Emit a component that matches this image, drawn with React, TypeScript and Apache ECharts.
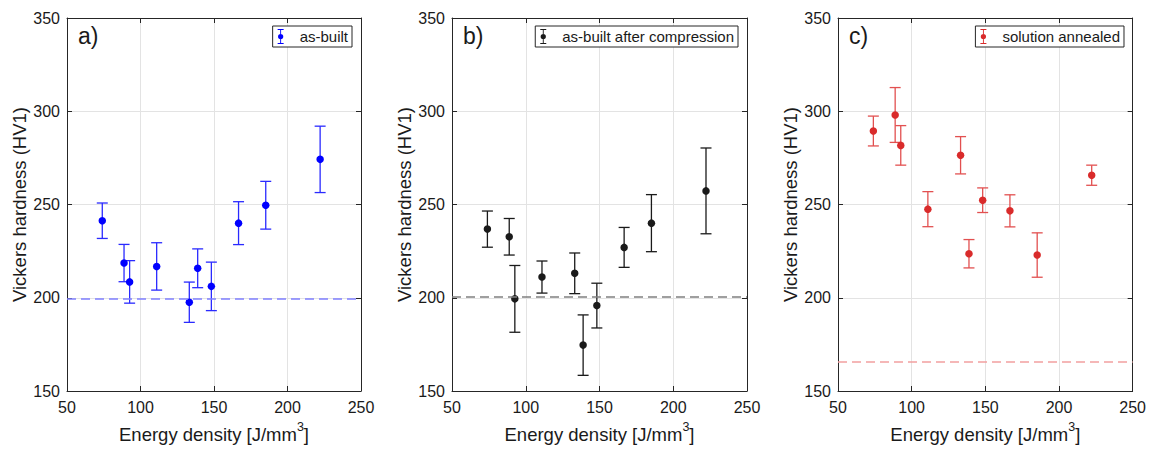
import React, { useEffect, useRef } from "react";
import * as echarts from "echarts";

const energyDensity = [74.0, 88.8, 92.6, 111.0, 133.2, 138.9, 148.2, 166.7, 185.2, 222.2];

const hardnessAsBuilt = [241.3, 218.6, 208.5, 216.8, 197.6, 215.8, 206.1, 240.0, 249.6, 274.2];
const errAsBuilt = [9.5, 10.0, 11.4, 12.7, 10.8, 10.4, 13.0, 11.5, 12.8, 17.8];

const hardnessCompressed = [236.8, 232.7, 199.4, 211.1, 213.1, 174.6, 195.8, 227.0, 240.0, 257.3];
const errCompressed = [9.7, 9.8, 17.9, 8.6, 10.9, 16.2, 12.0, 10.7, 15.3, 23.0];

const hardnessAnnealed = [289.4, 298.0, 281.7, 247.5, 276.4, 223.6, 252.3, 246.6, 222.9, 265.7];
const errAnnealed = [8.0, 14.7, 10.6, 9.4, 10.0, 7.6, 6.6, 8.6, 11.9, 5.4];

const referenceLevels = [199.4, 200.3, 165.5];
const seriesNames = ["as-built", "as-built after compression", "solution annealed"];
const panelLabels = ["a)", "b)", "c)"];

const xTicks = { min: 50, max: 250, interval: 50 };
const yTicks = { min: 150, max: 350, interval: 50 };

const FONT = "'Liberation Sans', Arial, Helvetica, sans-serif";

const LEGEND_ICON =
  "path://M1,0 H9 V1.2 H1 Z M4.4,0 H5.6 V20 H4.4 Z M1,18.8 H9 V20 H1 Z M1.5,10 A3.5,3.5 0 1 1 8.5,10 A3.5,3.5 0 1 1 1.5,10 Z";

export default function App() {
  const ref = useRef<HTMLDivElement>(null);

  useEffect(() => {
    if (!ref.current) return;
    const chart = echarts.init(ref.current, undefined, { renderer: "svg" });

    const grids = [
      { left: 67, top: 18, width: 294, height: 373 },
      { left: 452, top: 18, width: 295, height: 373 },
      { left: 838, top: 18, width: 295, height: 373 },
    ];
    const values = [hardnessAsBuilt, hardnessCompressed, hardnessAnnealed];
    const errs = [errAsBuilt, errCompressed, errAnnealed];
    const pointColors = ["#0000ff", "#1a1a1a", "#d92b2b"];
    const barColors = ["#2a2aff", "#1a1a1a", "#e25050"];
    const dashColors = ["#8080ff", "#808080", "#f2a0a0"];
    const legendRights = [797, 411, 25];

    const axisLine = { show: true, lineStyle: { color: "#262626", width: 1 } };
    const splitLine = { show: true, lineStyle: { color: "#e3e3e3", width: 1 } };

    const xAxes: any[] = [];
    const yAxes: any[] = [];
    const series: any[] = [];
    const legends: any[] = [];
    const titles: any[] = [];

    grids.forEach((g, i) => {
      xAxes.push({
        type: "value",
        gridIndex: i,
        ...xTicks,
        position: "bottom",
        name: "{n|Energy density [J/mm}{s|3}{n|]}",
        nameLocation: "middle",
        nameGap: 29,
        nameTextStyle: {
          rich: {
            n: { fontSize: 18.5, fontFamily: FONT, color: "#1a1a1a", lineHeight: 24, verticalAlign: "bottom" },
            s: { fontSize: 12.5, fontFamily: FONT, color: "#1a1a1a", lineHeight: 24, verticalAlign: "top", padding: [0, 0, 6, 0] },
          },
        },
        axisLine,
        axisTick: { show: true, inside: true, length: 5, lineStyle: { color: "#262626" } },
        axisLabel: { fontSize: 16, fontFamily: FONT, color: "#1a1a1a", margin: 8 },
        splitLine,
      });
      xAxes.push({
        type: "value",
        gridIndex: i,
        ...xTicks,
        position: "top",
        axisLine,
        axisTick: { show: true, inside: true, length: 5, lineStyle: { color: "#262626" } },
        axisLabel: { show: false },
        splitLine: { show: false },
      });
      yAxes.push({
        type: "value",
        gridIndex: i,
        ...yTicks,
        position: "left",
        name: "Vickers hardness (HV1)",
        nameLocation: "middle",
        nameGap: 36,
        nameTextStyle: { fontSize: 18.5, fontFamily: FONT, color: "#1a1a1a" },
        axisLine,
        axisTick: { show: true, inside: true, length: 5, lineStyle: { color: "#262626" } },
        axisLabel: { fontSize: 16, fontFamily: FONT, color: "#1a1a1a", margin: 7 },
        splitLine,
      });
      yAxes.push({
        type: "value",
        gridIndex: i,
        ...yTicks,
        position: "right",
        axisLine,
        axisTick: { show: true, inside: true, length: 5, lineStyle: { color: "#262626" } },
        axisLabel: { show: false },
        splitLine: { show: false },
      });

      const xIdx = i * 2;
      const yIdx = i * 2;
      const errData = energyDensity.map((x, k) => [x, values[i][k], values[i][k] - errs[i][k], values[i][k] + errs[i][k]]);

      series.push({
        type: "custom",
        name: seriesNames[i] + " error",
        xAxisIndex: xIdx,
        yAxisIndex: yIdx,
        silent: true,
        z: 3,
        data: errData,
        encode: { x: 0, y: [1, 2, 3] },
        renderItem: (params: any, api: any) => {
          const x = api.value(0);
          const lo = api.coord([x, api.value(2)]);
          const hi = api.coord([x, api.value(3)]);
          const hw = 5.5;
          const style = { stroke: barColors[i], lineWidth: 1.3, fill: "none" };
          return {
            type: "group",
            children: [
              { type: "line", shape: { x1: hi[0], y1: hi[1], x2: lo[0], y2: lo[1] }, style },
              { type: "line", shape: { x1: hi[0] - hw, y1: hi[1], x2: hi[0] + hw, y2: hi[1] }, style },
              { type: "line", shape: { x1: lo[0] - hw, y1: lo[1], x2: lo[0] + hw, y2: lo[1] }, style },
            ],
          };
        },
      });

      series.push({
        type: "scatter",
        name: seriesNames[i],
        xAxisIndex: xIdx,
        yAxisIndex: yIdx,
        symbol: "circle",
        symbolSize: 7.5,
        z: 4,
        itemStyle: { color: pointColors[i], opacity: 1 },
        data: energyDensity.map((x, k) => [x, values[i][k]]),
        markLine: {
          silent: true,
          symbol: "none",
          label: { show: false },
          lineStyle: { type: [9, 5], color: dashColors[i], width: 1.5 },
          data: [{ yAxis: referenceLevels[i] }],
        },
      });

      legends.push({
        data: [{ name: seriesNames[i], icon: LEGEND_ICON }],
        right: legendRights[i],
        top: 26,
        orient: "vertical",
        itemWidth: 28,
        itemHeight: 15,
        padding: [3, 4, 3, 5],
        borderColor: "#262626",
        borderWidth: 1,
        borderRadius: 0,
        backgroundColor: "#ffffff",
        selectedMode: false,
        textStyle: { fontSize: 15, fontFamily: FONT, color: "#1a1a1a" },
      });

      titles.push({
        text: panelLabels[i],
        left: g.left + 11,
        top: 24,
        padding: 0,
        textStyle: { fontSize: 23, fontWeight: "normal", fontFamily: FONT, color: "#1a1a1a" },
      });
    });

    chart.setOption({
      animation: false,
      backgroundColor: "#ffffff",
      title: titles,
      legend: legends,
      grid: grids.map((g) => ({ ...g, show: false, containLabel: false })),
      xAxis: xAxes,
      yAxis: yAxes,
      series,
    });

    return () => chart.dispose();
  }, []);

  return (
    <div
      ref={ref}
      style={{ position: "fixed", left: 0, top: 0, width: 1149, height: 449, background: "#fff" }}
    />
  );
}
